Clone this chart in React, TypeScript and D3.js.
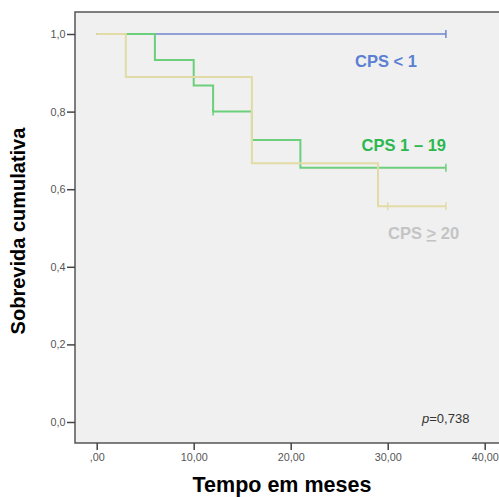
import React, { useEffect, useRef } from 'react';
import * as d3 from 'd3';

// Kaplan-Meier steps (time in months, cumulative survival)
const blueTimes = [0, 36];
const blueSurv = [1, 1];
const blueCensored = [36];

const greenTimes = [0, 6, 10, 12, 16, 21, 36];
const greenSurv = [1, 0.933, 0.867, 0.8, 0.727, 0.655, 0.655];
const greenCensored = [12, 36];

const yellowTimes = [0, 3, 16, 29, 36];
const yellowSurv = [1, 0.889, 0.667, 0.556, 0.556];
const yellowCensored = [30, 36];

const xTicks = [0, 10, 20, 30, 40];
const yTicks = [0, 0.2, 0.4, 0.6, 0.8, 1.0];

const W = 499, H = 497;

export default function App() {
  const ref = useRef<SVGSVGElement | null>(null);

  useEffect(() => {
    const svg = d3.select(ref.current);
    svg.selectAll('*').remove();

    // frame of the plot area
    const frame = { left: 75, top: 12, right: 500, bottom: 443 };
    const x = d3.scaleLinear().domain([0, 40]).range([96.7, 484.7]);
    const y = d3.scaleLinear().domain([0, 1]).range([422, 34]);
    const font = 'Liberation Sans, Arial, sans-serif';

    svg.append('rect')
      .attr('x', frame.left)
      .attr('y', frame.top)
      .attr('width', frame.right - frame.left)
      .attr('height', frame.bottom - frame.top)
      .attr('fill', '#f0f0f0')
      .attr('stroke', '#555')
      .attr('stroke-width', 1.5);

    // Y axis
    const yAxis = svg.append('g')
      .attr('transform', 'translate(' + frame.left + ',0)')
      .call(d3.axisLeft(y).tickValues(yTicks).tickSize(8).tickPadding(1.5)
        .tickFormat(d => d3.format('.1f')(d as number).replace('.', ',')));
    yAxis.select('.domain').remove();
    yAxis.selectAll('line').attr('stroke', '#444').attr('stroke-width', 1.5);
    yAxis.selectAll('text')
      .attr('fill', '#555')
      .style('font-family', font)
      .style('font-size', '10.8px');

    // X axis
    const xAxis = svg.append('g')
      .attr('transform', 'translate(0,' + frame.bottom + ')')
      .call(d3.axisBottom(x).tickValues(xTicks).tickSize(7).tickPadding(3)
        .tickFormat(d => {
          const s = d3.format('.2f')(d as number).replace('.', ',');
          return s.startsWith('0,') ? s.slice(1) : s;
        }));
    xAxis.select('.domain').remove();
    xAxis.selectAll('line').attr('stroke', '#444').attr('stroke-width', 1.5);
    xAxis.selectAll('text')
      .attr('fill', '#555')
      .style('font-family', font)
      .style('font-size', '10.8px');

    // survival curves
    const line = d3.line<[number, number]>()
      .x(d => x(d[0]))
      .y(d => y(d[1]))
      .curve(d3.curveStepAfter);

    function survAt(times: number[], surv: number[], t: number) {
      let v = surv[0];
      for (let i = 0; i < times.length; i++) if (times[i] <= t) v = surv[i];
      return v;
    }

    const series = [
      { times: blueTimes, surv: blueSurv, cens: blueCensored, color: '#7184cc', w: 1.5 },
      { times: greenTimes, surv: greenSurv, cens: greenCensored, color: '#6ccf7c', w: 2 },
      { times: yellowTimes, surv: yellowSurv, cens: yellowCensored, color: '#e2dba6', w: 2 },
    ];

    series.forEach(s => {
      const pts = s.times.map((t, i) => [t, s.surv[i]] as [number, number]);
      svg.append('path')
        .attr('d', line(pts))
        .attr('fill', 'none')
        .attr('stroke', s.color)
        .attr('stroke-width', s.w);
      s.cens.forEach(t => {
        const v = survAt(s.times, s.surv, t);
        svg.append('line')
          .attr('x1', x(t)).attr('x2', x(t))
          .attr('y1', y(v) - 4).attr('y2', y(v) + 4)
          .attr('stroke', s.color)
          .attr('stroke-width', 1.5);
      });
    });

    // curve labels
    svg.append('text')
      .attr('x', 355).attr('y', 67)
      .style('font-family', font).style('font-size', '16.5px').style('font-weight', 'bold')
      .attr('fill', '#5b7fd2')
      .text('CPS < 1');

    svg.append('text')
      .attr('x', 446).attr('y', 151)
      .attr('text-anchor', 'end')
      .style('font-family', font).style('font-size', '16.5px').style('font-weight', 'bold')
      .attr('fill', '#2cb84f')
      .text('CPS 1 – 19');

    const t3 = svg.append('text')
      .attr('x', 388).attr('y', 239)
      .style('font-family', font).style('font-size', '16.5px').style('font-weight', 'bold')
      .attr('fill', '#c4c4c4');
    t3.append('tspan').text('CPS ');
    t3.append('tspan').style('text-decoration', 'underline').text('>');
    t3.append('tspan').text(' 20');

    // p value
    const p = svg.append('text')
      .attr('x', 422).attr('y', 423)
      .style('font-family', font).style('font-size', '13px')
      .attr('fill', '#333');
    p.append('tspan').style('font-style', 'italic').text('p');
    p.append('tspan').text('=0,738');

    // axis titles
    svg.append('text')
      .attr('x', 282).attr('y', 492)
      .attr('text-anchor', 'middle')
      .style('font-family', font).style('font-size', '21.5px').style('font-weight', 'bold')
      .attr('fill', '#000')
      .text('Tempo em meses');

    svg.append('text')
      .attr('transform', 'translate(25,231) rotate(-90)')
      .attr('text-anchor', 'middle')
      .style('font-family', font).style('font-size', '20px').style('font-weight', 'bold')
      .attr('fill', '#000')
      .text('Sobrevida cumulativa');
  }, []);

  return (
    <svg ref={ref} width={W} height={H}
      style={{ position: 'absolute', left: 0, top: 0, background: '#fff' }} />
  );
}
